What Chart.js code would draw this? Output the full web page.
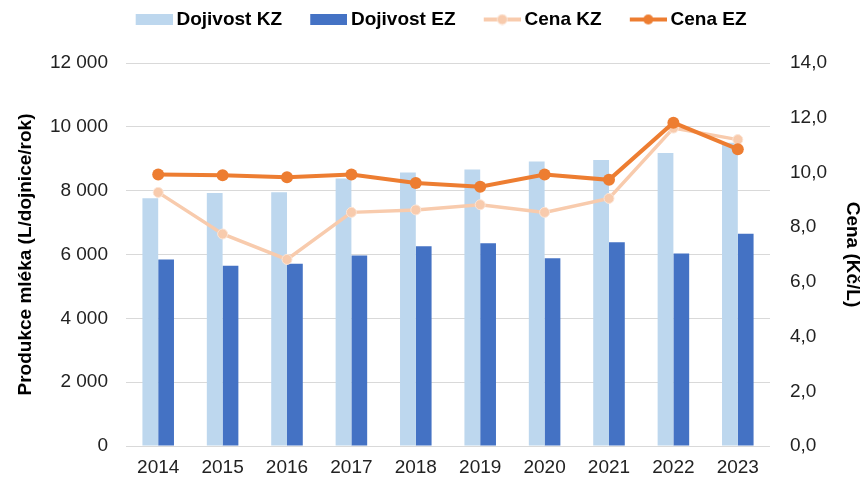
<!DOCTYPE html>
<html lang="cs">
<head>
<meta charset="utf-8">
<title>Dojivost a cena mléka</title>
<script src="https://cdn.jsdelivr.net/npm/chart.js@4.4.1/dist/chart.umd.min.js"></script>
<style>
  html, body { margin: 0; padding: 0; background: #fff; }
  #wrap { width: 864px; height: 481px; }
</style>
</head>
<body>
<div id="wrap"><canvas id="milkChart" width="864" height="481"></canvas></div>
<script>
// data
const years = ['2014', '2015', '2016', '2017', '2018', '2019', '2020', '2021', '2022', '2023'];
const dojivostKZ = [7760, 7930, 7950, 8380, 8570, 8660, 8910, 8960, 9180, 9500];
const dojivostEZ = [5840, 5650, 5710, 5970, 6260, 6350, 5880, 6380, 6030, 6650];
const cenaKZ = [9.27, 7.75, 6.82, 8.54, 8.63, 8.82, 8.54, 9.05, 11.62, 11.20];
const cenaEZ = [9.92, 9.90, 9.82, 9.92, 9.61, 9.48, 9.92, 9.73, 11.82, 10.85];

const colKZbar = '#BDD7EE';
const colEZbar = '#4472C4';
const colKZline = '#F8CBAD';
const colEZline = '#ED7D31';

const FONT = "'Liberation Sans', Arial, sans-serif";

// legend markers: 61px wide canvases, the visible 37px sit at the right end,
// the transparent left part gives the gap between legend items
const ICON_W = 61;
const MARK_W = 37;

function rectIcon(color) {
    const c = document.createElement('canvas');
    c.width = ICON_W; c.height = 11;
    const g = c.getContext('2d');
    g.fillStyle = color;
    g.fillRect(ICON_W - MARK_W, 0, MARK_W, 11);
    return c;
}

function lineIcon(color, border) {
    const c = document.createElement('canvas');
    c.width = ICON_W; c.height = 12;
    const g = c.getContext('2d');
    const x0 = ICON_W - MARK_W;
    g.strokeStyle = color;
    g.lineWidth = 4;
    g.beginPath();
    g.moveTo(x0, 6); g.lineTo(ICON_W, 6);
    g.stroke();
    g.beginPath();
    g.arc(x0 + MARK_W / 2, 6, 5, 0, Math.PI * 2);
    g.fillStyle = color;
    g.fill();
    if (border) {
        g.lineWidth = 1;
        g.strokeStyle = border;
        g.stroke();
    }
    return c;
}

const legendIcons = [rectIcon(colKZbar), rectIcon(colEZbar), lineIcon(colKZline, '#FBE5D6'), lineIcon(colEZline)];

function spaceThousands(v) {
    return String(v).replace(/\B(?=(\d{3})+(?!\d))/g, ' ');
}

// extra room under the legend so the plot starts lower
const legendGap = {
    id: 'legendGap',
    beforeLayout(chart) {
        const lg = chart.legend;
        if (lg && !lg._gapPatched) {
            const origFit = lg.fit;
            lg.fit = function () {
                origFit.call(this);
                this.height += 24;
            };
            lg._gapPatched = true;
        }
    }
};

const ctx = document.getElementById('milkChart').getContext('2d');

const milkChart = new Chart(ctx, {
    data: {
        labels: years,
        datasets: [
            {
                type: 'bar',
                label: 'Dojivost KZ',
                data: dojivostKZ,
                backgroundColor: colKZbar,
                yAxisID: 'y',
                order: 2,
                categoryPercentage: 0.49,
                barPercentage: 1
            },
            {
                type: 'bar',
                label: 'Dojivost EZ',
                data: dojivostEZ,
                backgroundColor: colEZbar,
                yAxisID: 'y',
                order: 2,
                categoryPercentage: 0.49,
                barPercentage: 1
            },
            {
                type: 'line',
                label: 'Cena KZ',
                data: cenaKZ,
                borderColor: colKZline,
                backgroundColor: colKZline,
                borderWidth: 3.5,
                pointRadius: 5,
                pointBorderWidth: 1,
                pointBorderColor: '#FBE5D6',
                pointBackgroundColor: colKZline,
                yAxisID: 'y1',
                order: 1
            },
            {
                type: 'line',
                label: 'Cena EZ',
                data: cenaEZ,
                borderColor: colEZline,
                backgroundColor: colEZline,
                borderWidth: 4,
                pointRadius: 6,
                pointBorderWidth: 0,
                pointBackgroundColor: colEZline,
                yAxisID: 'y1',
                order: 0
            }
        ]
    },
    options: {
        responsive: false,
        animation: false,
        layout: { padding: { left: 0, right: 0, top: 0, bottom: 2 } },
        plugins: {
            tooltip: { enabled: false },
            legend: {
                position: 'top',
                labels: {
                    usePointStyle: true,
                    pointStyleWidth: 49.5,
                    padding: 10,
                    color: '#000',
                    font: { family: FONT, size: 19, weight: 'bold' },
                    sort: (a, b) => a.datasetIndex - b.datasetIndex,
                    generateLabels(chart) {
                        const items = Chart.defaults.plugins.legend.labels.generateLabels(chart);
                        items.forEach(it => { it.pointStyle = legendIcons[it.datasetIndex]; });
                        return items;
                    }
                }
            }
        },
        scales: {
            x: {
                grid: { display: false, drawTicks: false },
                border: { display: false },
                ticks: { color: '#222', padding: 10, font: { family: FONT, size: 19 } },
                afterFit(scale) { scale.height = 33; }
            },
            y: {
                position: 'left',
                min: 0,
                max: 12000,
                ticks: {
                    stepSize: 2000,
                    padding: 18,
                    color: '#222',
                    font: { family: FONT, size: 19 },
                    callback: v => spaceThousands(v)
                },
                grid: { color: '#D9D9D9', drawTicks: false },
                border: { display: false },
                title: {
                    display: true,
                    text: 'Produkce mléka (L/dojnice/rok)',
                    color: '#000',
                    padding: { top: 14, bottom: 0 },
                    font: { family: FONT, size: 19, weight: 'bold' }
                },
                afterFit(scale) { scale.width = 126; }
            },
            y1: {
                position: 'right',
                min: 0,
                max: 14,
                ticks: {
                    stepSize: 2,
                    padding: 20,
                    color: '#222',
                    font: { family: FONT, size: 19 },
                    callback: v => v.toFixed(1).replace('.', ',')
                },
                grid: { display: false, drawTicks: false },
                border: { display: false },
                title: {
                    display: true,
                    text: 'Cena (Kč/L)',
                    color: '#000',
                    padding: 0,
                    font: { family: FONT, size: 19, weight: 'bold' }
                },
                afterFit(scale) { scale.width = 94; }
            }
        }
    },
    plugins: [legendGap]
});
</script>
</body>
</html>
